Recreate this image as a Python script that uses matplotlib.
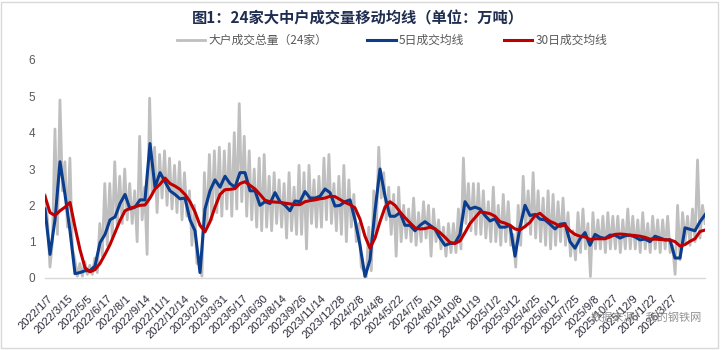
import numpy as np
import matplotlib
matplotlib.use('Agg')
import matplotlib.pyplot as plt
from matplotlib.patches import Rectangle

plt.rcParams['font.family'] = ['Noto Sans CJK SC', 'DejaVu Sans']

tick_labels = ['2022/1/7', '2022/3/15', '2022/5/5', '2022/6/17', '2022/8/1', '2022/9/14',
               '2022/11/1', '2022/12/14', '2023/2/16', '2023/3/31', '2023/5/17', '2023/6/30',
               '2023/8/14', '2023/9/26', '2023/11/14', '2023/12/28', '2024/2/8', '2024/4/8',
               '2024/5/22', '2024/7/5', '2024/8/19', '2024/10/8', '2024/11/19', '2025/1/2',
               '2025/3/12', '2025/4/25', '2025/6/12', '2025/7/25', '2025/9/8', '2025/10/27',
               '2025/12/9', '2026/1/22', '2026/3/27']

total_volume = [
    2.3, 1.6, 0.3, 1.0, 4.1, 1.2, 4.9, 2.4, 3.2, 1.4, 3.3, 0.8, 0.5, 0.05, 0.4, 0.05,
    0.45, 0.1, 0.35, 0.1, 0.55, 0.15, 1.5, 0.6, 2.6, 0.9, 2.6, 1.1, 3.2, 1.4, 2.8, 1.5,
    3.0, 1.6, 2.6, 1.5, 2.4, 1.0, 3.9, 1.6, 2.5, 0.65, 4.95, 2.3, 3.6, 1.8, 3.4, 2.2,
    3.5, 2.0, 3.3, 1.9, 3.1, 1.8, 3.2, 1.6, 2.9, 1.7, 2.4, 0.9, 2.0, 0.4, 0.4, 0.05,
    2.9, 1.4, 3.4, 1.6, 3.5, 1.8, 3.6, 1.7, 3.5, 1.9, 3.7, 1.7, 4.0, 1.9, 4.8, 2.1,
    3.9, 1.7, 3.5, 1.6, 3.0, 1.4, 3.3, 1.3, 3.4, 1.4, 2.8, 1.3, 2.9, 1.5, 2.7, 1.4,
    2.6, 1.1, 2.9, 1.3, 2.5, 1.2, 3.1, 1.2, 2.9, 0.8, 3.1, 1.5, 2.7, 1.4, 2.8, 1.4,
    3.3, 1.6, 3.4, 1.5, 2.6, 1.3, 2.8, 1.2, 3.1, 1.0, 2.7, 1.4, 2.3, 1.0, 1.5, 0.3,
    0.2, 0.02, 1.4, 0.2, 2.4, 1.3, 3.6, 2.2, 2.9, 1.6, 2.5, 1.2, 2.3, 0.6, 2.5, 1.0,
    2.0, 1.1, 1.9, 1.0, 2.2, 0.9, 1.8, 1.0, 2.1, 1.1, 2.0, 0.6, 1.9, 1.0, 1.6, 0.8,
    1.4, 0.6, 1.5, 0.7, 1.5, 0.7, 1.9, 0.8, 3.3, 1.5, 2.6, 1.3, 2.6, 1.2, 2.6, 1.2,
    2.4, 1.1, 2.1, 1.0, 2.5, 1.0, 2.0, 0.9, 2.3, 1.0, 2.1, 0.9, 1.2, 0.3, 2.0, 0.9,
    2.8, 1.4, 2.4, 1.2, 2.9, 1.1, 2.4, 1.0, 2.2, 0.9, 2.4, 0.8, 2.3, 0.9, 2.1, 1.0,
    2.2, 0.9, 1.8, 0.6, 1.3, 0.5, 1.8, 0.7, 1.9, 0.8, 1.5, 0.04, 1.8, 0.8, 1.6, 0.8,
    1.7, 0.7, 1.8, 0.8, 1.7, 0.8, 1.7, 0.7, 1.6, 0.8, 1.9, 0.8, 1.7, 0.8, 1.6, 0.7,
    1.8, 0.8, 1.5, 0.7, 1.7, 0.8, 1.6, 0.7, 1.6, 0.8, 1.7, 0.7, 0.9, 0.1, 2.0, 0.5,
    1.8, 1.0, 1.7, 0.9, 1.9, 1.0, 3.25, 1.1, 2.0, 1.5]

ma5 = [
    1.9, 0.65, 1.6, 3.2, 2.3, 1.3, 0.12, 0.15, 0.2, 0.2,
    0.33, 0.97, 1.2, 1.6, 1.68, 2.05, 2.3, 1.9, 1.95, 2.15,
    2.15, 3.7, 2.5, 2.9, 2.65, 2.4, 2.3, 2.18, 2.2, 1.6,
    1.3, 0.15, 1.9, 2.4, 2.7, 2.5, 2.8, 2.6, 2.5, 2.9,
    2.9, 2.4, 2.4, 2.0, 2.1, 2.05, 2.35, 2.1, 2.0, 1.85,
    2.12, 2.1, 2.38, 2.2, 2.2, 2.25, 2.45, 2.35, 1.98, 2.0,
    2.1, 2.15, 1.6, 0.9, 0.04, 0.5, 1.85, 3.0, 2.25, 1.7,
    1.7, 1.8, 1.45, 1.45, 1.3, 1.45, 1.55, 1.45, 1.35, 1.1,
    0.9, 0.95, 0.96, 1.2, 2.1, 1.9, 1.95, 1.9, 1.72, 1.57,
    1.63, 1.4, 1.4, 1.45, 0.6, 1.4, 2.0, 1.72, 1.75, 1.62,
    1.6, 1.48, 1.35, 1.48, 1.5, 1.0, 0.82, 1.08, 1.25, 0.9,
    1.2, 1.12, 1.09, 1.18, 1.18, 1.1, 1.16, 1.18, 1.13, 1.05,
    1.07, 1.0, 1.15, 1.1, 1.05, 1.05, 0.55, 0.55, 1.38, 1.34,
    1.3, 1.55, 1.74]

ma30 = [
    2.25, 1.8, 1.72, 1.85, 1.95, 2.08, 1.4, 0.78, 0.28, 0.17,
    0.23, 0.4, 0.65, 0.92, 1.25, 1.58, 1.85, 1.92, 1.96, 2.0,
    2.01, 2.2, 2.45, 2.58, 2.75, 2.6, 2.53, 2.44, 2.3, 2.1,
    1.82, 1.45, 1.27, 1.55, 1.95, 2.3, 2.43, 2.44, 2.46, 2.6,
    2.65, 2.55, 2.45, 2.3, 2.14, 2.1, 2.09, 2.08, 2.06, 2.04,
    2.02, 2.02, 2.1, 2.13, 2.15, 2.18, 2.2, 2.25, 2.24, 2.16,
    2.08, 2.02, 1.93, 1.62, 1.15, 0.82, 1.1, 1.55, 1.95, 2.1,
    2.0, 1.82, 1.66, 1.52, 1.38, 1.35, 1.36, 1.4, 1.35, 1.25,
    1.12, 0.98, 0.95, 1.02, 1.25, 1.5, 1.66, 1.82, 1.8, 1.77,
    1.7, 1.55, 1.51, 1.45, 1.35, 1.32, 1.42, 1.53, 1.72, 1.78,
    1.66, 1.56, 1.5, 1.42, 1.46, 1.3, 1.2, 1.15, 1.13, 1.06,
    1.08, 1.08, 1.08, 1.13, 1.2, 1.21, 1.2, 1.18, 1.17, 1.15,
    1.12, 1.07, 1.07, 1.06, 1.05, 1.05, 1.0, 0.88, 0.92, 1.01,
    1.08, 1.28, 1.32]

W, H = 724, 350
fig = plt.figure(figsize=(W / 100, H / 100), dpi=100)
ax = fig.add_axes([45 / W, 72 / H, 660 / W, 218 / H])

n = len(ma5)
x5 = np.arange(n)
xg = np.linspace(0, n - 1, len(total_volume))

ax.plot(xg, total_volume, color='#BFBFBF', lw=2.0, label='大户成交总量（24家）', zorder=1)
ax.plot(x5, ma5, color='#0B3D8F', lw=2.2, label='5日成交均线', zorder=2)
ax.plot(x5, ma30, color='#C00000', lw=2.2, label='30日成交均线', zorder=3)

ax.set_xlim(0, n - 1)
ax.set_ylim(0, 6)
ax.set_yticks(range(0, 7))
ax.set_yticklabels([str(v) for v in range(0, 7)], family='Liberation Sans',
                   fontsize=8.5, color='#595959')
ax.tick_params(axis='y', length=0, pad=7)

tick_pos = np.linspace(0.6, 125.4, len(tick_labels))
ax.set_xticks(tick_pos)
ax.set_xticklabels(tick_labels, rotation=45, ha='right', va='top', rotation_mode='anchor',
                   family='Liberation Sans', fontsize=8, color='#2B2B3B')
ax.tick_params(axis='x', length=0, pad=11)

for s in ['top', 'right', 'left']:
    ax.spines[s].set_visible(False)
ax.spines['bottom'].set_color('#D9D9D9')
ax.spines['bottom'].set_linewidth(1.0)

fig.text(358 / W, 1 - 18 / H, '图1：24家大中户成交量移动均线（单位：万吨）', ha='center', va='center',
         fontsize=11, fontweight='bold', color='#1F2D50')

ax.legend(loc='center', bbox_to_anchor=(392 / W, 1 - 40.5 / H), bbox_transform=fig.transFigure,
          ncol=3, frameon=False, fontsize=8.5, handlelength=2.4, handletextpad=0.25,
          columnspacing=3.4, labelcolor='#595959')

fig.text(646 / W, 1 - 318 / H, '数据来源：我的钢铁网', ha='center', va='center',
         fontsize=8, color='#808080', alpha=0.85)

fig.add_artist(Rectangle((1 / W, 2 / H), 717 / W, 346 / H, transform=fig.transFigure,
                         fill=False, edgecolor='#D9D9D9', lw=1))

fig.savefig('out.png', dpi=100)
